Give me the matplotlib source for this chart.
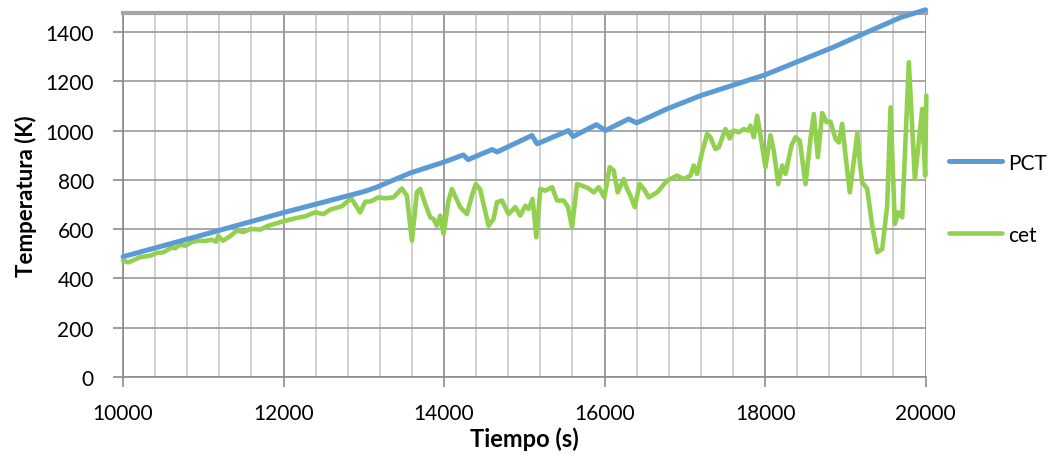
import matplotlib.pyplot as plt
from matplotlib.ticker import MultipleLocator

plt.rcParams['font.family'] = ['Lato', 'DejaVu Sans']

# PCT curve
t_pct = [10000, 11000, 12000, 13000, 13160, 13580, 13990, 14240, 14300, 14600,
         14660, 14960, 15096, 15160, 15550, 15610, 15900, 16010, 16300, 16400,
         16780, 17200, 18000, 18440, 18850, 19270, 19690, 20000]
pct = [488, 577, 667, 752, 770, 828, 871, 901, 882, 923,
       913, 959, 980, 946, 1000, 976, 1024, 1000, 1047, 1031,
       1088, 1142, 1226, 1284, 1338, 1399, 1459, 1490]

# cet curve
t_cet = [10000, 10066, 10212, 10337, 10420, 10503, 10607, 10648, 10711, 10773,
         10856, 10939, 11022, 11106, 11160, 11188, 11243, 11334, 11418, 11500,
         11584, 11646, 11708, 11812, 11979, 12145, 12269, 12394, 12498, 12581,
         12727, 12843, 12955, 13017, 13080, 13184, 13267, 13371, 13475, 13537,
         13600, 13662, 13703, 13766, 13828, 13869, 13911, 13953, 13994, 14056,
         14098, 14202, 14285, 14348, 14395, 14451, 14555, 14617, 14659, 14722,
         14804, 14888, 14950, 15013, 15054, 15104, 15150, 15200, 15262, 15346,
         15408, 15491, 15545, 15595, 15657, 15730, 15802, 15864, 15927, 15998,
         16064, 16114, 16164, 16239, 16281, 16322, 16376, 16438, 16488, 16551,
         16655, 16780, 16904, 16987, 17070, 17111, 17153, 17216, 17278, 17319,
         17382, 17423, 17506, 17560, 17610, 17673, 17735, 17789, 17818, 17860,
         17902, 17943, 18005, 18067, 18109, 18164, 18214, 18255, 18329, 18379,
         18433, 18504, 18566, 18608, 18658, 18712, 18766, 18816, 18878, 18919,
         18961, 19003, 19056, 19115, 19150, 19177, 19210, 19273, 19335, 19397,
         19460, 19522, 19564, 19617, 19660, 19709, 19792, 19867, 19959, 19995,
         20010]
cet = [472, 465, 486, 492, 503, 506, 526, 522, 536, 533,
       547, 553, 552, 557, 549, 573, 553, 571, 594, 588,
       600, 600, 598, 614, 630, 644, 652, 668, 661, 679,
       693, 725, 668, 711, 712, 729, 725, 729, 765, 736,
       553, 750, 763, 702, 648, 641, 614, 655, 580, 716,
       763, 689, 661, 736, 783, 760, 614, 641, 709, 716,
       661, 689, 655, 695, 682, 722, 567, 763, 756, 770,
       716, 716, 689, 607, 783, 775, 765, 749, 770, 729,
       851, 838, 749, 803, 763, 736, 689, 783, 763, 729,
       749, 797, 817, 803, 817, 858, 824, 912, 986, 973,
       925, 932, 1006, 968, 1000, 993, 1006, 1000, 1020, 973,
       1060, 981, 851, 981, 918, 783, 858, 824, 939, 973,
       959, 783, 966, 1067, 892, 1071, 1034, 1036, 966, 952,
       1027, 898, 749, 898, 990, 885, 790, 763, 614, 506,
       519, 695, 1094, 621, 668, 648, 1277, 803, 1088, 817,
       1142]

fig = plt.figure(figsize=(10.55, 4.6), dpi=100)
ax = fig.add_axes([0.1166, 0.1783, 0.7607, 0.7913])

ax.plot(t_pct, pct, color='#5B9BD5', lw=3.6, label='PCT', clip_on=False,
        solid_capstyle='round', solid_joinstyle='round', zorder=4)
ax.plot(t_cet, cet, color='#92D050', lw=3.3, label='cet', clip_on=False,
        solid_capstyle='round', solid_joinstyle='round', zorder=3)

ax.set_xlim(10000, 20000)
ax.set_ylim(0, 1477)
ax.xaxis.set_major_locator(MultipleLocator(2000))
ax.xaxis.set_minor_locator(MultipleLocator(400))
ax.yaxis.set_major_locator(MultipleLocator(200))

ax.grid(which='major', axis='x', color='#8C8C8C', lw=1.2)
ax.grid(which='minor', axis='x', color='#C8C8C8', lw=1.2)
ax.grid(which='major', axis='y', color='#9A9A9A', lw=1.2)
ax.set_axisbelow(True)

for s in ['left', 'bottom']:
    ax.spines[s].set_color('#8C8C8C')
    ax.spines[s].set_linewidth(1.2)
ax.spines['right'].set_visible(False)
ax.spines['top'].set_color('#A6A6A6')
ax.spines['top'].set_linewidth(3)

ax.tick_params(axis='both', which='major', direction='out', length=7,
               width=1.2, color='#8C8C8C', labelsize=15)
ax.tick_params(axis='y', pad=14)
ax.tick_params(axis='x', pad=12)
ax.tick_params(which='minor', length=0)

ax.set_xlabel('Tiempo (s)', fontsize=17, fontweight='bold', labelpad=2)
ax.set_ylabel('Temperatura (K)', fontsize=16, fontweight='bold', labelpad=6)

ax.legend(loc='center left', bbox_to_anchor=(1.006, 0.49), frameon=False,
          fontsize=15, handlelength=2.55, labelspacing=2.5, handletextpad=0.3)

fig.savefig('out.png', dpi=100)
